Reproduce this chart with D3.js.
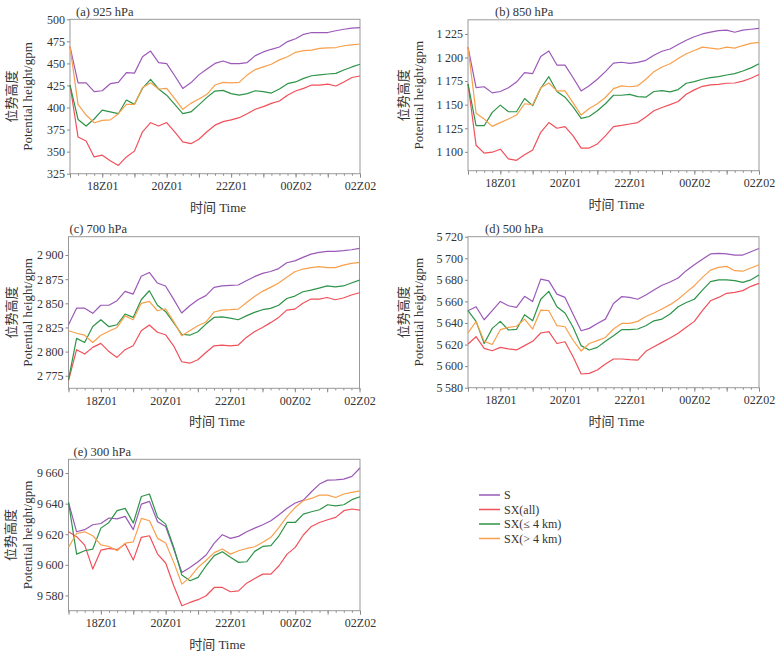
<!DOCTYPE html>
<html>
<head>
<meta charset="utf-8">
<script src="https://cdn.jsdelivr.net/npm/d3@7"></script>
<style>
  body { margin: 0; background: #fff; }
  svg text { font-family: "Liberation Serif", "Noto Sans CJK SC", serif; fill: #333; }
  .frame { fill: none; stroke: #999; stroke-width: 1; }
  .tick line, .domain { stroke: #888; }
</style>
</head>
<body>
<svg id="chart" width="783" height="651"></svg>
<script>
// time axis, quarter-hourly from 17Z01 to 02Z02 (hours past 00Z01)
const steps = d3.range(17, 26.001, 0.25);
const labelHours = [18, 20, 22, 24, 26];
const labelText = ["18Z01", "20Z01", "22Z01", "00Z02", "02Z02"];

const seriesNames = ["S", "SX(all)", "SX(\u2264 4 km)", "SX(> 4 km)"];
const seriesColors = ["#9b59b8", "#f0505a", "#2e9448", "#f8a04c"];

// 925 hPa
const s925 = [469, 428, 428, 418, 419, 427, 428.5, 439.5, 439, 457.6, 464, 451, 449.7, 436, 421.7, 428, 437, 443.6, 450, 452.7, 449.7, 449.7, 451, 458.8, 463, 466, 468.6, 474.7, 478, 483, 485, 485, 485, 487, 488.7, 490, 490.5];
const sxAll925 = [425.5, 366.5, 362, 344, 346, 339.7, 334.4, 344, 350.6, 372.5, 382.8, 379, 383, 372.5, 361, 359, 364, 372.5, 380, 384, 386, 388.5, 393, 398, 401, 404.7, 407.4, 414, 418.7, 421.7, 425.5, 425.5, 426.6, 424.4, 429, 434, 435.7];
const sxLow925 = [425.5, 386.5, 379, 387, 397, 395, 393, 408.5, 403.6, 421.7, 432, 421, 414, 403.6, 393, 395, 403, 411.5, 418.7, 419.4, 415.7, 414, 415.7, 419, 418, 416.4, 421, 427, 429, 433, 436, 437, 438, 438.7, 442.5, 446, 449];
const sxHigh925 = [469, 403.6, 391.5, 382.8, 385.4, 386, 393, 403.6, 403.6, 422.5, 428, 421, 421.7, 410, 398, 404.7, 409.6, 415, 425.5, 428.5, 428, 428.5, 437, 443, 446, 449, 454, 457.6, 462.6, 464.5, 465, 467, 467.5, 468, 470, 471, 472];

// 850 hPa
const s850 = [1211, 1168, 1169, 1162.5, 1164, 1168, 1174, 1184, 1183, 1201, 1207, 1192, 1192, 1178.6, 1164.6, 1170, 1177, 1185, 1194, 1195, 1193.7, 1194.8, 1197, 1202.5, 1206.7, 1209, 1213.8, 1218.3, 1222, 1225, 1227, 1228.5, 1229, 1226.8, 1229, 1230, 1231];
const sxAll850 = [1172, 1107, 1098.6, 1099.6, 1102.8, 1092.6, 1091, 1097, 1102, 1120.7, 1131, 1125, 1126.7, 1117, 1104, 1104, 1108.4, 1117, 1126.7, 1128, 1129.5, 1131, 1137, 1143.5, 1147, 1150, 1153.4, 1161, 1165.7, 1169.5, 1171, 1171.6, 1172.7, 1173, 1175, 1178, 1182];
const sxLow850 = [1172, 1127.7, 1127.7, 1141.8, 1149.5, 1142.5, 1142.5, 1156.5, 1149, 1167.4, 1179.7, 1164, 1158, 1147.7, 1135.5, 1137.5, 1143.5, 1151, 1160, 1160, 1161, 1158.6, 1158, 1164, 1165, 1163.6, 1166, 1172.7, 1174.4, 1177, 1178.6, 1179.7, 1181.5, 1183, 1185.7, 1189, 1193.4];
const sxHigh850 = [1211, 1141, 1134.8, 1127, 1131, 1134.8, 1139, 1151, 1150, 1168, 1173, 1164.6, 1164.6, 1152, 1139, 1146, 1151, 1157.6, 1167, 1170, 1169, 1170, 1177, 1185, 1190, 1193.4, 1199, 1204, 1207.5, 1211, 1210, 1209, 1211, 1210, 1212.7, 1215, 1216];

// 700 hPa
const s700 = [2827.8, 2845, 2845, 2839.6, 2848, 2848, 2852.7, 2862.4, 2859.6, 2878, 2882, 2871, 2868, 2854.4, 2840, 2847.5, 2853.7, 2858, 2866.5, 2868, 2868.6, 2869, 2873.4, 2877.6, 2881, 2883, 2886, 2892, 2894, 2897.6, 2901, 2902.8, 2903.8, 2903.8, 2904.5, 2905.5, 2907];
const sxAll700 = [2770, 2802, 2797.5, 2804.4, 2808.5, 2800, 2794, 2802, 2806, 2821.6, 2827.5, 2820, 2817.5, 2806, 2789.5, 2788, 2791.6, 2799, 2806, 2806.8, 2806, 2806.8, 2814.7, 2820.6, 2825, 2830, 2835.4, 2843, 2844, 2850, 2854.4, 2854.4, 2856, 2853.7, 2855.5, 2858.6, 2861];
const sxLow700 = [2771, 2813.7, 2809.5, 2826, 2833, 2825.8, 2827.8, 2838.9, 2835.4, 2853.7, 2863, 2848, 2841.6, 2830, 2818, 2817, 2820.6, 2828.5, 2835.4, 2836, 2834.7, 2833, 2837, 2840.6, 2843.4, 2844.8, 2848, 2855, 2857.5, 2862, 2863.7, 2865.8, 2868, 2867, 2868, 2871, 2874];
const sxHigh700 = [2821.6, 2819, 2817, 2809.5, 2817, 2821, 2825, 2837, 2833, 2850, 2852, 2842.3, 2844.4, 2831.3, 2816.4, 2821.6, 2826.8, 2830.6, 2841, 2843, 2843.4, 2844, 2850.6, 2857, 2862.4, 2866.5, 2871, 2877, 2882.7, 2885.5, 2887, 2888, 2887, 2887, 2889.6, 2891.4, 2892.4];

// 500 hPa
const s500 = [5651.4, 5655, 5643, 5651.4, 5660, 5656, 5654.5, 5664.7, 5660, 5680.7, 5679, 5666.8, 5663.7, 5648, 5632.8, 5635, 5639.6, 5643.6, 5658, 5664.4, 5663.7, 5662, 5666, 5670.5, 5675, 5678, 5681.7, 5688.5, 5694, 5699, 5704, 5704.5, 5704, 5703, 5703, 5706, 5709];
const sxAll500 = [5620.5, 5627.3, 5616.5, 5614.3, 5617.4, 5616, 5615, 5619, 5623, 5630.7, 5632, 5621, 5622.6, 5608.7, 5592.7, 5593.3, 5596.4, 5602, 5606.6, 5606.6, 5606, 5605.6, 5613.7, 5618, 5622, 5626, 5630.4, 5636, 5641.5, 5651.4, 5660.6, 5663.7, 5667.5, 5668.4, 5670, 5674, 5676.7];
const sxLow500 = [5651.4, 5641.5, 5621, 5635, 5641.5, 5633.5, 5634, 5647.7, 5642, 5662, 5669.3, 5655, 5649.2, 5636, 5619, 5615, 5617.4, 5623, 5628.2, 5633.8, 5633.8, 5634.4, 5637.5, 5642, 5643.6, 5648.3, 5655, 5659, 5662, 5670.5, 5678.3, 5680, 5680, 5679.2, 5677.6, 5680, 5684.5];
const sxHigh500 = [5630.7, 5641.5, 5623, 5620, 5633.8, 5636, 5637, 5643.6, 5634.4, 5652, 5651.4, 5637.5, 5636.5, 5624, 5614, 5621, 5623.6, 5626.6, 5634.4, 5639.6, 5639.6, 5641.5, 5646, 5649.2, 5653, 5657, 5662, 5668.4, 5674.6, 5682.3, 5689, 5691.6, 5692.5, 5688.5, 5688, 5691, 5694];

// 300 hPa
const s300 = [9640.8, 9621.6, 9623, 9626.2, 9627, 9630.6, 9630, 9631.7, 9623, 9639.7, 9641.5, 9628.2, 9625, 9610.3, 9595, 9598.3, 9602, 9606.4, 9614.2, 9619.7, 9617.3, 9618.6, 9621.6, 9624, 9626.2, 9628.8, 9632.8, 9637, 9640.4, 9642.3, 9647.8, 9652.8, 9655.4, 9655.6, 9656, 9657.8, 9663.3];
const sxAll300 = [9621.6, 9618.4, 9612.9, 9597.2, 9609.6, 9610.7, 9609.9, 9613.6, 9603.1, 9618, 9619, 9607, 9601.2, 9586.3, 9573.2, 9575.4, 9577.2, 9579.8, 9585.2, 9585.2, 9582.4, 9583, 9588, 9591.1, 9593.9, 9593.9, 9599.4, 9607, 9611.4, 9619.5, 9625.1, 9627.7, 9629.5, 9631, 9635.4, 9636.5, 9635.8];
const sxLow300 = [9640.8, 9607, 9609.2, 9610.3, 9624, 9627.7, 9635.4, 9636.9, 9627.3, 9644.7, 9646.3, 9631, 9626.6, 9611.4, 9593.3, 9589.6, 9591.8, 9599.4, 9606, 9608.6, 9604.9, 9601.6, 9602, 9608.8, 9612, 9612.5, 9619, 9627.7, 9627.7, 9633.2, 9634.7, 9636, 9639.3, 9638.6, 9639.3, 9642.6, 9644.5];
const sxHigh300 = [9611.4, 9620.5, 9621.6, 9619, 9613, 9612, 9609.2, 9614.2, 9615, 9630.4, 9628.8, 9617.3, 9614.2, 9601.6, 9587.4, 9591.8, 9598.3, 9603, 9608, 9610.3, 9607, 9609.2, 9610.7, 9611.8, 9614.7, 9618, 9624.5, 9631.7, 9637.5, 9641.9, 9643.4, 9645.6, 9645.6, 9644, 9646.3, 9647.4, 9648.4];

const panels = [
  { title: "(a) 925 hPa", series: [s925, sxAll925, sxLow925, sxHigh925], domain: [325, 500], yTicks: d3.range(325, 501, 25),
    left: 70, right: 360, top: 19.3, bottom: 173.7, titleDx: 6, labelX: [11, 27] },
  { title: "(b) 850 hPa", series: [s850, sxAll850, sxLow850, sxHigh850], domain: [1080, 1240], yTicks: d3.range(1100, 1226, 25),
    left: 468, right: 759, top: 19.8, bottom: 170.7, titleDx: 27, labelX: [403, 418] },
  { title: "(c) 700 hPa", series: [s700, sxAll700, sxLow700, sxHigh700], domain: [2762, 2919], yTicks: d3.range(2775, 2901, 25),
    left: 68.5, right: 359.5, top: 236.7, bottom: 388.3, titleDx: 1, labelX: [11, 27] },
  { title: "(d) 500 hPa", series: [s500, sxAll500, sxLow500, sxHigh500], domain: [5580, 5720], yTicks: d3.range(5580, 5721, 20),
    left: 468, right: 759, top: 236.7, bottom: 387.7, titleDx: 17, labelX: [403, 418] },
  { title: "(e) 300 hPa", series: [s300, sxAll300, sxLow300, sxHigh300], domain: [9570, 9669], yTicks: d3.range(9580, 9661, 20),
    left: 68.5, right: 360, top: 459.3, bottom: 610.7, titleDx: 5, labelX: [10, 27] }
];

const svg = d3.select("#chart");
const fmt = d3.formatLocale({ decimal: ".", thousands: "\u2009", grouping: [3], currency: ["", ""] }).format(",");

function draw_panel(p) {
  const g = svg.append("g");
  const x = d3.scaleLinear().domain([17, 26]).range([p.left, p.right]);
  const y = d3.scaleLinear().domain(p.domain).range([p.bottom, p.top]);

  // minor ticks every 15 min, major every hour
  const minor = d3.axisBottom(x).tickValues(steps).tickSize(2).tickFormat("");
  g.append("g").attr("transform", "translate(0," + p.bottom + ")").call(minor)
    .call(s => s.select(".domain").remove());
  const major = d3.axisBottom(x).tickValues(d3.range(17, 27)).tickSize(4)
    .tickFormat(d => { let i = labelHours.indexOf(d); return i >= 0 ? labelText[i] : ""; });
  g.append("g").attr("transform", "translate(0," + p.bottom + ")").call(major)
    .call(s => s.select(".domain").remove())
    .call(s => s.selectAll("text").attr("y", 8).style("font-size", "12px"));

  const yAxis = d3.axisLeft(y).tickValues(p.yTicks).tickSize(3).tickFormat(fmt);
  g.append("g").attr("transform", "translate(" + p.left + ",0)").call(yAxis)
    .call(s => s.select(".domain").remove())
    .call(s => s.selectAll("text").attr("x", -5).style("font-size", "12px"));

  g.append("rect").attr("class", "frame")
    .attr("x", p.left).attr("y", p.top)
    .attr("width", p.right - p.left).attr("height", p.bottom - p.top);

  const line = d3.line().x((d, i) => x(steps[i])).y(d => y(d));
  p.series.forEach((vals, k) => {
    g.append("path").datum(vals)
      .attr("d", line)
      .attr("fill", "none")
      .attr("stroke", seriesColors[k])
      .attr("stroke-width", 1.2)
      .attr("stroke-linejoin", "round");
  });

  g.append("text").attr("x", p.left + p.titleDx).attr("y", p.top - 3.5)
    .style("font-size", "12.5px").text(p.title);

  const midY = (p.top + p.bottom) / 2;
  g.append("text").attr("transform", "translate(" + p.labelX[0] + "," + midY + ") rotate(-90)")
    .attr("text-anchor", "middle").attr("dy", "0.35em").style("font-size", "13px").text("位势高度");
  g.append("text").attr("transform", "translate(" + p.labelX[1] + "," + midY + ") rotate(-90)")
    .attr("text-anchor", "middle").attr("dy", "0.35em").style("font-size", "13px").text("Potential height/gpm");

  g.append("text").attr("x", (p.left + p.right) / 2 + 3).attr("y", p.bottom + 38)
    .attr("text-anchor", "middle").style("font-size", "13px").text("时间 Time");
}

panels.forEach(draw_panel);

const legend = svg.append("g").attr("transform", "translate(479,495)");
seriesNames.forEach((name, i) => {
  let row = legend.append("g").attr("transform", "translate(0," + i * 14.5 + ")");
  row.append("line").attr("x1", 0).attr("x2", 21).attr("stroke", seriesColors[i]).attr("stroke-width", 1.5);
  row.append("text").attr("x", 25).attr("dy", "0.35em").style("font-size", "12px").text(name);
});
</script>
</body>
</html>
